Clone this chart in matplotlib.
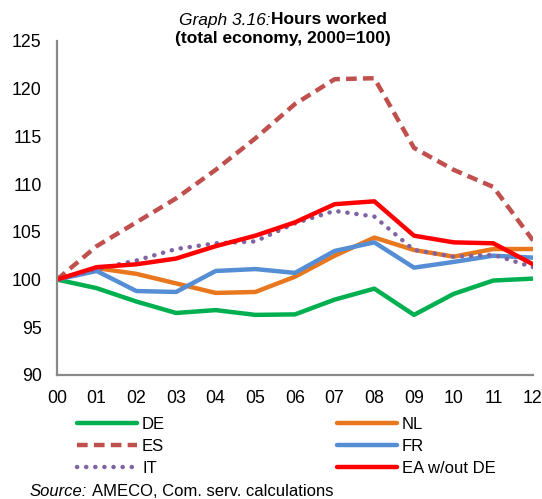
import matplotlib
matplotlib.use("Agg")
import matplotlib.pyplot as plt

years = ["00", "01", "02", "03", "04", "05", "06", "07", "08", "09", "10", "11", "12"]
de = [100, 99.1, 97.7, 96.5, 96.8, 96.3, 96.35, 97.9, 99.05, 96.3, 98.5, 99.9, 100.1]
nl = [100, 101.2, 100.6, 99.6, 98.6, 98.7, 100.3, 102.5, 104.4, 103.1, 102.4, 103.2, 103.2]
es = [100, 103.5, 106.0, 108.5, 111.5, 114.8, 118.4, 121.0, 121.1, 113.8, 111.5, 109.7, 104.1]
fr = [100, 100.9, 98.8, 98.7, 100.9, 101.1, 100.7, 103.0, 103.9, 101.25, 101.85, 102.5, 102.3]
it = [100, 101.1, 102.0, 103.2, 103.8, 104.0, 105.9, 107.2, 106.6, 103.1, 102.4, 102.6, 101.3]
ea = [100, 101.3, 101.6, 102.2, 103.5, 104.6, 106.0, 107.9, 108.2, 104.6, 103.9, 103.8, 101.6]
yticks = [90, 95, 100, 105, 110, 115, 120, 125]

plt.rcParams['font.family'] = ['Liberation Sans', 'DejaVu Sans']

W, H = 542, 499
fig = plt.figure(figsize=(W / 100, H / 100), dpi=100)
ax = fig.add_axes([57/W, 1 - 375/H, (533-57)/W, (375-41)/H])

x = list(range(len(years)))
lw = 3.2
ax.plot(x, de, color="#00B050", lw=lw, label="DE", solid_capstyle="round")
ax.plot(x, nl, color="#E8771E", lw=lw, label="NL", solid_capstyle="round")
ax.plot(x, es, color="#C0504D", lw=lw, ls=(0, (2.4, 1.4)), label="ES")
ax.plot(x, fr, color="#558ED5", lw=lw, label="FR", solid_capstyle="round")
ax.plot(x, it, color="#8064A2", lw=lw, ls=(0, (0.05, 2.0)), dash_capstyle="round", label="IT")
ax.plot(x, ea, color="#FF0000", lw=lw, label="EA w/out DE", solid_capstyle="round")

ax.set_xlim(0, 12)
ax.set_ylim(90, 125)
ax.set_yticks(yticks)
ax.set_xticks(x)
ax.set_xticklabels(years)
ax.tick_params(length=0, labelsize=12.8)
ax.tick_params(axis='y', pad=11)
ax.tick_params(axis='x', pad=11)
for s in ["top", "right"]:
    ax.spines[s].set_visible(False)
for s in ["left", "bottom"]:
    ax.spines[s].set_color("#898989")
    ax.spines[s].set_linewidth(1.6)

fig.canvas.draw()
r = fig.canvas.get_renderer()

# title line 1 (mixed styles), centred
tsize = 12.5
t1 = fig.text(0, 1 - 20/H, "Graph 3.16:", style="italic", ha="left", va="center", fontsize=tsize)
t2 = fig.text(0, 1 - 20/H, "Hours worked", fontweight="bold", ha="left", va="center", fontsize=tsize)
w1 = t1.get_window_extent(r).width
w2 = t2.get_window_extent(r).width
cx = 283
start = cx - (w1 + w2) / 2
t1.set_x(start / W)
t2.set_x((start + w1) / W)
fig.text(cx / W, 1 - 38/H, "(total economy, 2000=100)", ha="center", va="center",
         fontsize=tsize, fontweight="bold")

handles, labels = ax.get_legend_handles_labels()
order = [0, 2, 4, 1, 3, 5]
leg = fig.legend([handles[i] for i in order], [labels[i] for i in order], ncol=2,
                 loc="upper left", bbox_to_anchor=(77/W, 1 - 417/H), frameon=False,
                 fontsize=12, handlelength=3.6, handletextpad=0.3, columnspacing=10.3,
                 labelspacing=0.42, borderpad=0, borderaxespad=0)

s1 = fig.text(30/W, 1 - 492/H, "Source:", style="italic", fontsize=12, va="center", ha="left")
ws = s1.get_window_extent(r).width
fig.text((30 + ws + 5)/W, 1 - 492/H, "AMECO, Com. serv. calculations", fontsize=12,
         va="center", ha="left")

fig.savefig("out.png", dpi=100)
